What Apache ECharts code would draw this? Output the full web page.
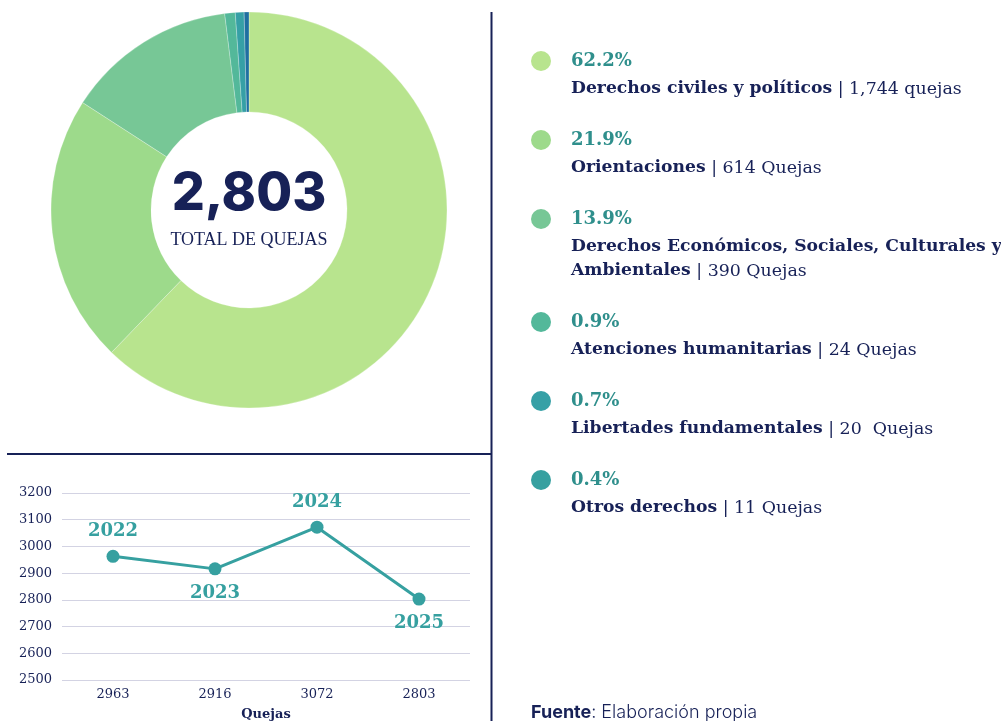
<!DOCTYPE html>
<html>
<head>
<meta charset="utf-8">
<script src="https://cdn.jsdelivr.net/npm/echarts@6/dist/echarts.min.js"></script>
<style>
  html, body { margin: 0; padding: 0; background: #fff; }
  #chart { width: 1001px; height: 721px; }
</style>
</head>
<body>
<div id="chart"></div>
<script>
// quejas por tipo de derecho
const categories = [
  'Derechos civiles y políticos',
  'Orientaciones',
  'Derechos Económicos, Sociales, Culturales y\nAmbientales',
  'Atenciones humanitarias',
  'Libertades fundamentales',
  'Otros derechos'
]
const counts = [1744, 614, 390, 24, 20, 11]
const pctLabels = ['62.2%', '21.9%', '13.9%', '0.9%', '0.7%', '0.4%']
const countLabels = ['1,744 quejas', '614 Quejas', '390 Quejas', '24 Quejas', '20  Quejas', '11 Quejas']
const sliceColors = ['#b8e48e', '#9dda8b', '#77c796', '#53b89a', '#36a0a6', '#1f6fa0']
const dotColors = ['#b8e48e', '#9dda8b', '#77c796', '#53b89a', '#36a0a6', '#36a0a0']
const totalLabel = '2,803'

// evolución anual
const years = ['2022', '2023', '2024', '2025']
const yearTotals = [2963, 2916, 3072, 2803]
const xLabels = ['2963', '2916', '3072', '2803']
const yearLabelPos = ['top', 'bottom', 'top', 'bottom']

const NAVY = '#172157'
const TEAL = '#36a0a0'
const SERIF = 'DejaVu Serif'

const chart = echarts.init(document.getElementById('chart'), null, { renderer: 'canvas' })

// legend blocks on the right
const legendItems = []
let y = 61
categories.forEach((name, i) => {
  const lines = name.split('\n')
  const first = lines.slice(0, -1)
  const last = lines[lines.length - 1]
  legendItems.push({
    type: 'circle',
    shape: { cx: 541, cy: y, r: 10 },
    style: { fill: dotColors[i] }
  })
  legendItems.push({
    type: 'text',
    x: 571, y: y,
    style: {
      text: pctLabels[i],
      font: 'bold 18px "' + SERIF + '"',
      fill: '#2f8f8c',
      verticalAlign: 'middle'
    }
  })
  let ly = y + 28
  first.forEach(l => {
    legendItems.push({
      type: 'text',
      x: 571, y: ly,
      style: { text: l, font: 'bold 17.2px "' + SERIF + '"', fill: NAVY, verticalAlign: 'middle' }
    })
    ly += 24
  })
  legendItems.push({
    type: 'text',
    x: 571, y: ly,
    style: {
      text: '{b|' + last + '}{r| | ' + countLabels[i] + '}',
      verticalAlign: 'middle',
      rich: {
        b: { font: 'bold 17.2px "' + SERIF + '"', fill: NAVY },
        r: { font: '17.4px "' + SERIF + '"', fill: NAVY }
      }
    }
  })
  y = ly + 51
})

chart.setOption({
  backgroundColor: '#fff',
  animation: false,
  grid: { left: 62, right: 531, top: 493, bottom: 41, outerBoundsMode: 'none' },
  xAxis: {
    type: 'category',
    data: xLabels,
    boundaryGap: true,
    axisLine: { show: false },
    axisTick: { show: false },
    axisLabel: { color: NAVY, fontFamily: SERIF, fontSize: 13, margin: 8 },
    name: 'Quejas',
    nameLocation: 'middle',
    nameGap: 28,
    nameTextStyle: { color: NAVY, fontFamily: SERIF, fontSize: 13, fontWeight: 'bold' }
  },
  yAxis: {
    type: 'value',
    min: 2500,
    max: 3200,
    interval: 100,
    axisLine: { show: false },
    axisTick: { show: false },
    axisLabel: { color: NAVY, fontFamily: SERIF, fontSize: 13, margin: 10, formatter: v => String(v) },
    splitLine: { lineStyle: { color: '#d3d3e3', width: 1 } }
  },
  series: [
    {
      type: 'pie',
      center: [249, 210],
      radius: [98, 198],
      startAngle: 90,
      clockwise: true,
      label: { show: false },
      labelLine: { show: false },
      itemStyle: { borderColor: 'rgba(255,255,255,0.5)', borderWidth: 0.5 },
      data: categories.map((n, i) => ({
        name: n,
        value: counts[i],
        itemStyle: { color: sliceColors[i] }
      }))
    },
    {
      type: 'line',
      data: yearTotals.map((v, i) => ({
        value: v,
        label: {
          show: true,
          position: yearLabelPos[i],
          formatter: years[i],
          distance: 9
        }
      })),
      symbol: 'circle',
      symbolSize: 13,
      lineStyle: { color: TEAL, width: 3 },
      itemStyle: { color: TEAL },
      label: {
        color: TEAL,
        fontFamily: SERIF,
        fontWeight: 'bold',
        fontSize: 18
      }
    }
  ],
  graphic: [
    {
      type: 'text',
      x: 249, y: 194,
      style: {
        text: totalLabel,
        font: '800 52px Inter',
        fill: NAVY,
        align: 'center',
        verticalAlign: 'middle'
      }
    },
    {
      type: 'text',
      x: 249, y: 240,
      style: {
        text: 'TOTAL DE QUEJAS',
        font: '18px "Liberation Serif"',
        fill: NAVY,
        align: 'center',
        verticalAlign: 'middle'
      }
    },
    {
      type: 'line',
      shape: { x1: 491.5, y1: 12, x2: 491.5, y2: 721 },
      style: { stroke: NAVY, lineWidth: 2 }
    },
    {
      type: 'line',
      shape: { x1: 7, y1: 454, x2: 491, y2: 454 },
      style: { stroke: NAVY, lineWidth: 2 }
    },
    {
      type: 'text',
      x: 531, y: 713,
      style: {
        text: '{b|Fuente}{r|: Elaboración propia}',
        verticalAlign: 'middle',
        rich: {
          b: { font: 'bold 18px Inter', fill: NAVY },
          r: { font: '300 18px Inter', fill: NAVY }
        }
      }
    },
    ...legendItems
  ]
})

window.addEventListener('resize', () => chart.resize())
</script>
</body>
</html>
